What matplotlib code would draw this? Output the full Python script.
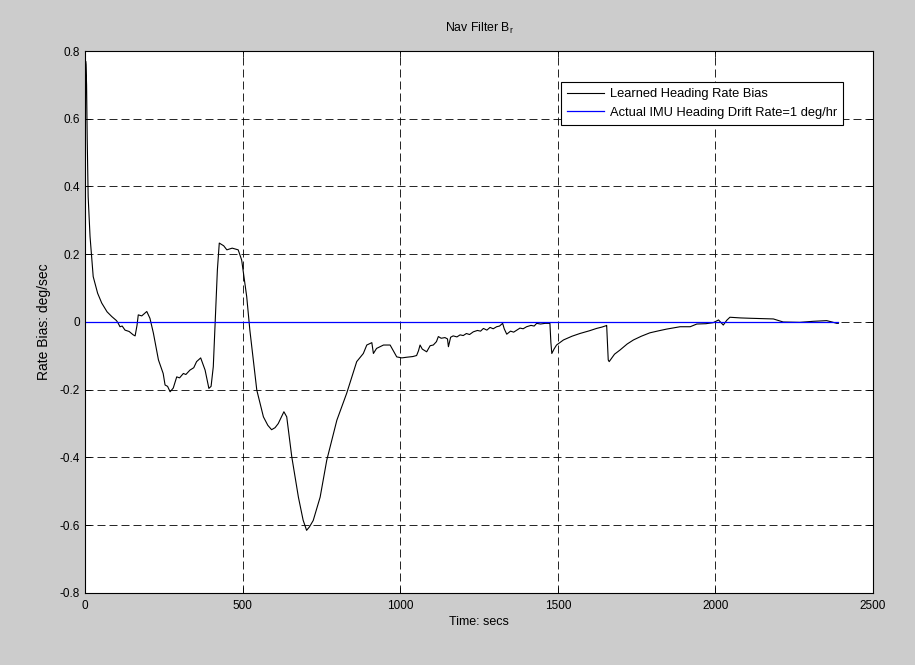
import numpy as np
import matplotlib.pyplot as plt

plt.rcParams['font.family'] = ['Liberation Sans', 'DejaVu Sans']
plt.rcParams['mathtext.fontset'] = 'custom'
plt.rcParams['mathtext.rm'] = 'Liberation Sans'
plt.rcParams['mathtext.it'] = 'Liberation Sans'

# learned heading rate bias (deg/sec) vs time (secs)
t_bias = [0, 1, 2, 3, 5, 7, 10, 16, 26, 40, 53, 70, 85, 100, 106, 111, 118, 127, 140,
          153, 159, 165, 169, 180, 190, 196, 206, 217, 233, 248, 254, 262, 270, 280,
          291, 300, 312, 320, 333, 345, 354, 367, 381, 393, 400, 407, 412, 420, 426,
          440, 450, 467, 486, 497, 513, 523, 545, 566, 580, 592, 603, 613, 631, 640,
          656, 677, 692, 703, 712, 724, 746, 767, 799, 830, 862, 883, 894, 906, 910,
          915, 925, 947, 968, 989, 1005, 1021, 1040, 1052, 1058, 1063, 1070, 1084,
          1095, 1105, 1115, 1121, 1130, 1142, 1150, 1153, 1160, 1168, 1180, 1190,
          1200, 1210, 1220, 1232, 1245, 1255, 1264, 1275, 1285, 1295, 1306, 1315,
          1325, 1330, 1338, 1350, 1360, 1370, 1380, 1390, 1401, 1415, 1425, 1433,
          1445, 1460, 1470, 1475, 1478, 1481, 1488, 1496, 1518, 1545, 1570, 1600,
          1623, 1640, 1653, 1655, 1660, 1663, 1680, 1697, 1720, 1740, 1765, 1792,
          1820, 1845, 1870, 1888, 1920, 1941, 1970, 1993, 2010, 2025, 2036, 2046,
          2080, 2110, 2150, 2184, 2215, 2268, 2310, 2353, 2370, 2385, 2390]
bias = [0.07, 0.40, 0.77, 0.76, 0.70, 0.54, 0.37, 0.252, 0.134, 0.085, 0.056, 0.03,
        0.016, 0.004, -0.005, -0.014, -0.012, -0.024, -0.028, -0.038, -0.041,
        -0.01, 0.021, 0.018, 0.026, 0.031, 0.011, -0.033, -0.112, -0.152, -0.186,
        -0.19, -0.206, -0.195, -0.162, -0.165, -0.152, -0.155, -0.142, -0.135,
        -0.117, -0.106, -0.142, -0.196, -0.19, -0.132, -0.024, 0.154, 0.233, 0.225,
        0.213, 0.218, 0.213, 0.183, 0.075, -0.024, -0.201, -0.28, -0.305, -0.318,
        -0.312, -0.30, -0.265, -0.28, -0.398, -0.517, -0.585, -0.615, -0.605,
        -0.586, -0.517, -0.408, -0.29, -0.211, -0.117, -0.093, -0.068, -0.063,
        -0.061, -0.093, -0.078, -0.068, -0.068, -0.103, -0.106, -0.104, -0.102,
        -0.099, -0.085, -0.068, -0.08, -0.088, -0.07, -0.068, -0.058, -0.043,
        -0.048, -0.046, -0.05, -0.073, -0.045, -0.041, -0.044, -0.038, -0.040,
        -0.034, -0.037, -0.029, -0.025, -0.027, -0.019, -0.024, -0.016, -0.02,
        -0.014, -0.012, -0.004, -0.02, -0.036, -0.027, -0.03, -0.024, -0.018,
        -0.02, -0.014, -0.01, -0.012, -0.004, -0.006, -0.004, -0.004, -0.004,
        -0.06, -0.093, -0.08, -0.068, -0.053, -0.042, -0.034, -0.026, -0.019,
        -0.015, -0.011, -0.01, -0.112, -0.117, -0.095, -0.083, -0.065, -0.053,
        -0.042, -0.032, -0.026, -0.021, -0.017, -0.014, -0.014, -0.006, -0.005,
        -0.002, 0.006, -0.009, 0.005, 0.014, 0.012, 0.011, 0.01, 0.009, 0.0,
        -0.001, 0.002, 0.004, 0.0, -0.004, -0.004]

# actual IMU heading drift rate, 1 deg/hr expressed in deg/sec
t_drift = [0, 2390]
drift = [1.0 / 3600, 1.0 / 3600]

fig = plt.figure(figsize=(9.15, 6.65), dpi=100, facecolor='#cccccc')
ax = fig.add_axes([0.0929, 0.1083, 0.8612, 0.815])

ax.plot(t_bias, bias, color='black', lw=0.8, label='Learned Heading Rate Bias')
ax.plot(t_drift, drift, color='#0000ff', lw=0.9,
        label='Actual IMU Heading Drift Rate=1 deg/hr')

ax.set_xlim(0, 2500)
ax.set_ylim(-0.8, 0.8)
ax.set_xticks(np.arange(0, 2501, 500))
ax.set_yticks(np.arange(-0.8, 0.81, 0.2))
ax.set_yticklabels(['-0.8', '-0.6', '-0.4', '-0.2', '0', '0.2', '0.4', '0.6', '0.8'])
ax.grid(True, color='black', lw=0.6, linestyle=(0, (9.6, 4.8)))
ax.tick_params(direction='in', length=4, width=0.6, labelsize=8.5,
               top=True, right=True)
ax.tick_params(axis='x', pad=5)
for sp in ax.spines.values():
    sp.set_linewidth(0.8)

ax.set_title('Nav Filter B$_\\mathrm{r}$', fontsize=8.8, pad=14)
ax.set_xlabel('Time: secs', fontsize=9, labelpad=3)
ax.set_ylabel('Rate Bias: deg/sec', fontsize=10, labelpad=6)

leg = ax.legend(loc='upper left', bbox_to_anchor=(0.604, 0.942), fontsize=9.3,
                frameon=True, fancybox=False, framealpha=1, edgecolor='black',
                handlelength=2.9, handletextpad=0.45, borderpad=0.45,
                labelspacing=0.5, borderaxespad=0)
leg.get_frame().set_linewidth(0.8)

fig.savefig('out.png', dpi=100, facecolor=fig.get_facecolor())
